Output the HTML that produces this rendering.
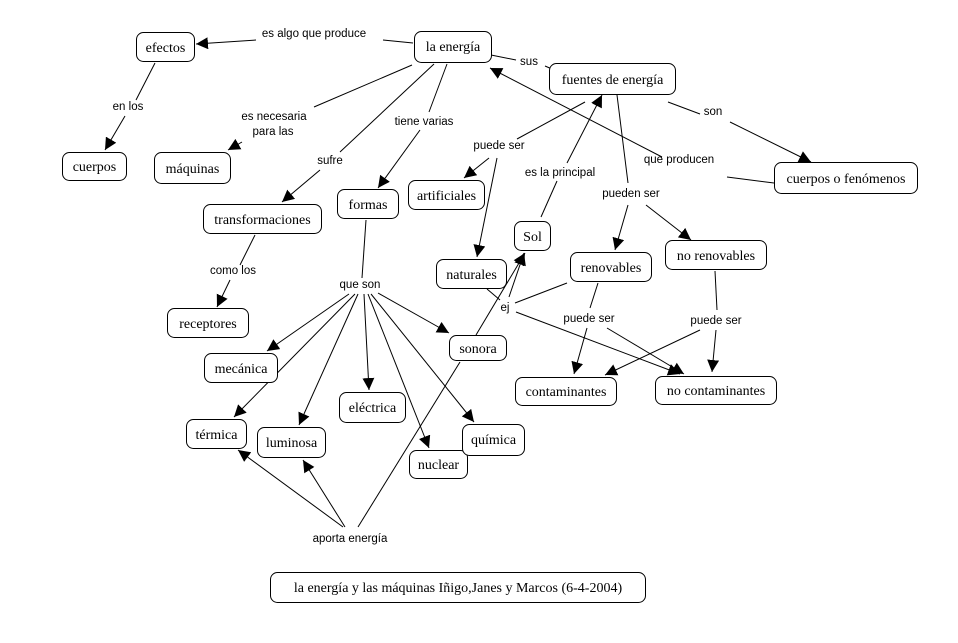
<!DOCTYPE html>
<html><head><meta charset="utf-8"><style>
html,body{margin:0;padding:0;background:#fff;}
svg{display:block}
.n{fill:#fff;stroke:#000;stroke-width:1}
.t{font-family:"Liberation Serif",serif;font-size:14px;fill:#000;text-anchor:middle}
.l{font-family:"Liberation Sans",sans-serif;font-size:11.5px;fill:#000;text-anchor:middle}
line{stroke:#000;stroke-width:1}
</style></head><body>
<svg width="958" height="643" viewBox="0 0 958 643" xmlns="http://www.w3.org/2000/svg">
<defs><marker id="a" viewBox="0 0 10 10" refX="10" refY="5" markerWidth="12" markerHeight="12" markerUnits="userSpaceOnUse" orient="auto"><path d="M0,0 L10,5 L0,10 z" fill="#000"/></marker></defs>
<g>
<line x1="413" y1="43" x2="383" y2="40"/><line x1="256" y1="40" x2="196" y2="44" marker-end="url(#a)"/>
<line x1="155" y1="63" x2="136" y2="100"/><line x1="125" y1="116" x2="105" y2="150" marker-end="url(#a)"/>
<line x1="412" y1="65" x2="314" y2="107"/><line x1="242" y1="142" x2="228" y2="150" marker-end="url(#a)"/>
<line x1="434" y1="64" x2="340" y2="152"/><line x1="320" y1="170" x2="282" y2="202" marker-end="url(#a)"/>
<line x1="447" y1="64" x2="429" y2="112"/><line x1="420" y1="130" x2="378" y2="188" marker-end="url(#a)"/>
<line x1="491" y1="55" x2="516" y2="60"/><line x1="545" y1="66" x2="552" y2="69"/>
<line x1="585" y1="102" x2="517" y2="139"/><line x1="489" y1="158" x2="464" y2="178" marker-end="url(#a)"/>
<line x1="497" y1="158" x2="477" y2="257" marker-end="url(#a)"/>
<line x1="541" y1="217" x2="557" y2="181"/><line x1="567" y1="163" x2="602" y2="95" marker-end="url(#a)"/>
<line x1="617" y1="95" x2="628" y2="183"/><line x1="628" y1="205" x2="615" y2="250" marker-end="url(#a)"/>
<line x1="646" y1="205" x2="691" y2="240" marker-end="url(#a)"/>
<line x1="668" y1="102" x2="700" y2="114"/><line x1="730" y1="122" x2="811" y2="162" marker-end="url(#a)"/>
<line x1="774" y1="183" x2="727" y2="177"/><line x1="662" y1="157" x2="490" y2="68" marker-end="url(#a)"/>
<line x1="255" y1="235" x2="240" y2="265"/><line x1="230" y1="280" x2="217" y2="307" marker-end="url(#a)"/>
<line x1="366" y1="220" x2="362" y2="278"/>
<line x1="349" y1="294" x2="267" y2="351" marker-end="url(#a)"/>
<line x1="355" y1="294" x2="234" y2="417" marker-end="url(#a)"/>
<line x1="358" y1="294" x2="299" y2="425" marker-end="url(#a)"/>
<line x1="364" y1="294" x2="369" y2="390" marker-end="url(#a)"/>
<line x1="368" y1="294" x2="429" y2="448" marker-end="url(#a)"/>
<line x1="371" y1="294" x2="474" y2="422" marker-end="url(#a)"/>
<line x1="378" y1="293" x2="449" y2="333" marker-end="url(#a)"/>
<line x1="343" y1="527" x2="238" y2="450" marker-end="url(#a)"/>
<line x1="345" y1="527" x2="303" y2="460" marker-end="url(#a)"/>
<line x1="358" y1="527" x2="460" y2="362"/><line x1="476" y1="335" x2="525" y2="253" marker-end="url(#a)"/>
<line x1="487" y1="289" x2="500" y2="300"/>
<line x1="509" y1="297" x2="524" y2="253" marker-end="url(#a)"/>
<line x1="567" y1="283" x2="515" y2="303"/>
<line x1="516" y1="312" x2="680" y2="374" marker-end="url(#a)"/>
<line x1="598" y1="283" x2="590" y2="308"/><line x1="587" y1="328" x2="574" y2="374" marker-end="url(#a)"/>
<line x1="607" y1="328" x2="684" y2="374" marker-end="url(#a)"/>
<line x1="715" y1="271" x2="717" y2="310"/><line x1="716" y1="330" x2="712" y2="372" marker-end="url(#a)"/>
<line x1="700" y1="330" x2="605" y2="375" marker-end="url(#a)"/>
</g>
<g>
<rect class="n" x="136.5" y="32.5" width="58" height="29" rx="7"/><text class="t" x="165.5" y="52">efectos</text>
<rect class="n" x="414.5" y="31.5" width="77" height="31" rx="7"/><text class="t" x="453" y="51">la energía</text>
<rect class="n" x="549.5" y="63.5" width="126" height="31" rx="7"/><text class="t" x="612.5" y="84">fuentes de energía</text>
<rect class="n" x="774.5" y="162.5" width="143" height="31" rx="7"/><text class="t" x="846" y="183">cuerpos o fenómenos</text>
<rect class="n" x="62.5" y="152.5" width="64" height="28" rx="7"/><text class="t" x="94.5" y="171">cuerpos</text>
<rect class="n" x="154.5" y="152.5" width="76" height="31" rx="7"/><text class="t" x="192.5" y="173">máquinas</text>
<rect class="n" x="203.5" y="204.5" width="118" height="29" rx="7"/><text class="t" x="262.5" y="224">transformaciones</text>
<rect class="n" x="337.5" y="189.5" width="61" height="29" rx="7"/><text class="t" x="368" y="209">formas</text>
<rect class="n" x="408.5" y="180.5" width="76" height="29" rx="7"/><text class="t" x="446.5" y="200">artificiales</text>
<rect class="n" x="436.5" y="259.5" width="70" height="29" rx="7"/><text class="t" x="471.5" y="279">naturales</text>
<rect class="n" x="514.5" y="221.5" width="36" height="29" rx="7"/><text class="t" x="532.5" y="241">Sol</text>
<rect class="n" x="570.5" y="252.5" width="81" height="29" rx="7"/><text class="t" x="611" y="272">renovables</text>
<rect class="n" x="665.5" y="240.5" width="101" height="29" rx="7"/><text class="t" x="716" y="260">no renovables</text>
<rect class="n" x="167.5" y="308.5" width="81" height="29" rx="7"/><text class="t" x="208" y="328">receptores</text>
<rect class="n" x="204.5" y="353.5" width="73" height="29" rx="7"/><text class="t" x="241" y="373">mecánica</text>
<rect class="n" x="186.5" y="419.5" width="60" height="29" rx="7"/><text class="t" x="216.5" y="439">térmica</text>
<rect class="n" x="257.5" y="427.5" width="68" height="30" rx="7"/><text class="t" x="291.5" y="447">luminosa</text>
<rect class="n" x="339.5" y="392.5" width="66" height="30" rx="7"/><text class="t" x="372.5" y="412">eléctrica</text>
<rect class="n" x="449.5" y="335.5" width="57" height="25" rx="7"/><text class="t" x="478" y="353">sonora</text>
<rect class="n" x="409.5" y="450.5" width="58" height="28" rx="7"/><text class="t" x="438.5" y="469">nuclear</text>
<rect class="n" x="462.5" y="424.5" width="62" height="31" rx="7"/><text class="t" x="493.5" y="444">química</text>
<rect class="n" x="515.5" y="377.5" width="101" height="28" rx="7"/><text class="t" x="566" y="396">contaminantes</text>
<rect class="n" x="655.5" y="376.5" width="121" height="28" rx="7"/><text class="t" x="716" y="395">no contaminantes</text>
<rect class="n" x="270.5" y="572.5" width="375" height="30" rx="7"/><text class="t" x="458" y="592">la energía y las máquinas Iñigo,Janes y Marcos (6-4-2004)</text>
</g>
<g>
<text class="l" x="314" y="37">es algo que produce</text>
<text class="l" x="128" y="110">en los</text>
<text class="l" x="274" y="120">es necesaria</text>
<text class="l" x="273" y="135">para las</text>
<text class="l" x="330" y="164">sufre</text>
<text class="l" x="424" y="125">tiene varias</text>
<text class="l" x="529" y="65">sus</text>
<text class="l" x="499" y="149">puede ser</text>
<text class="l" x="560" y="176">es la principal</text>
<text class="l" x="713" y="115">son</text>
<text class="l" x="679" y="163">que producen</text>
<text class="l" x="631" y="197">pueden ser</text>
<text class="l" x="233" y="274">como los</text>
<text class="l" x="360" y="288">que son</text>
<text class="l" x="505" y="311">ej</text>
<text class="l" x="589" y="322">puede ser</text>
<text class="l" x="716" y="324">puede ser</text>
<text class="l" x="350" y="542">aporta energía</text>
</g>
</svg>
</body></html>
